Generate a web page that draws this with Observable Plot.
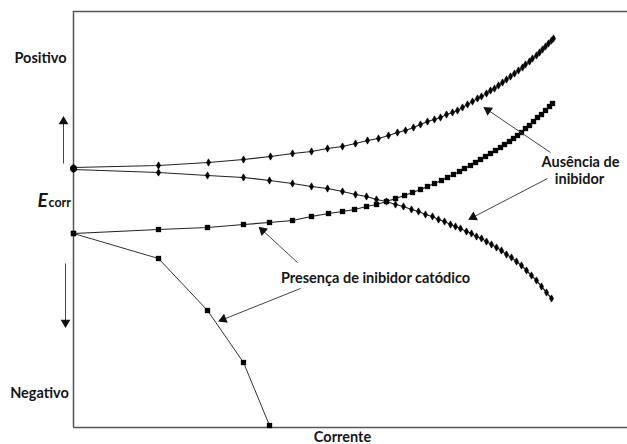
<!DOCTYPE html>
<html>
<head>
<meta charset="utf-8">
<script src="https://cdn.jsdelivr.net/npm/d3@7"></script>
<script src="https://cdn.jsdelivr.net/npm/@observablehq/plot@0.6"></script>
<style>
  html, body { margin: 0; padding: 0; background: #fff; }
  #chart svg { display: block; }
</style>
</head>
<body>
<div id="chart"></div>
<script>
// Arbitrary units: current (x) and potential (y)
const anodicNoInhibitor = [[0,260],[85,262],[135,265],[170,268],[197,271],[219,274],[238,276],[254,279],[269,281],[282,284],[294,287],[305,289],[315,292],[324,295],[332,297],[340,300],[347,303],[354,306],[361,308],[367,310],[373,313],[379,315],[384,317],[389,320],[394,323],[399,326],[404,329],[408,331],[413,334],[417,337],[421,339],[425,342],[429,345],[433,348],[437,351],[441,354],[445,357],[449,360],[452,363],[456,366],[459,369],[463,372],[466,375],[469,378],[472,381],[475,384],[478,387],[480,389]];
const cathodicNoInhibitor = [[0,258],[85,255],[134,252],[170,250],[196,247],[219,244],[238,241],[254,239],[269,236],[282,233],[293,231],[303,228],[313,226],[322,223],[330,221],[338,218],[345,216],[352,213],[359,211],[365,208],[371,206],[377,203],[382,201],[387,199],[393,196],[398,194],[403,191],[408,189],[413,186],[418,183],[423,180],[428,177],[433,173],[438,170],[443,166],[448,162],[453,157],[458,152],[463,147],[468,141],[473,135],[478,129]];
const anodicInhibitor = [[0,194],[85,198],[134,200],[170,203],[196,205],[219,207],[238,211],[255,214],[269,216],[281,218],[293,221],[303,223],[313,226],[322,229],[331,232],[339,235],[347,238],[354,241],[361,244],[368,247],[374,250],[380,253],[386,256],[391,259],[397,262],[402,265],[407,268],[412,271],[417,274],[422,277],[427,280],[431,283],[436,286],[440,289],[444,292],[448,295],[452,299],[456,302],[460,306],[464,310],[468,313],[472,317],[476,321],[479,324]];
const cathodicInhibitor = [[0,194],[85,169],[134,117],[170,65],[196,2]];

const axisLabels = ["Positivo", "Negativo", "Corrente"];
const legendLabels = ["Ausência de", "inibidor", "Presença de inibidor catódico"];
// annotation arrows: [x1, y1, x2, y2] (tail -> head)
const annotationArrows = [[477,275,412,319],[474,249,397,209],[224,165,187,199],[227,139,147,107]];
const directionArrows = [[-10,264,-10,309],[-8,164,-8,102]];

const font = "Lato, 'Open Sans', sans-serif";
const ink = "#161616";
const toPts = a => a.map(([x, y]) => ({x, y}));
const allArrows = annotationArrows.concat(directionArrows).map(([x1,y1,x2,y2]) => ({x1,y1,x2,y2,
  angle: Math.atan2(x2 - x1, y2 - y1) * 180 / Math.PI}));
const heads = allArrows.map(a => {
  const len = Math.hypot(a.x2 - a.x1, a.y2 - a.y1);
  const ux = (a.x2 - a.x1) / len, uy = (a.y2 - a.y1) / len;
  return {x: a.x2 - ux * 3, y: a.y2 - uy * 3, angle: a.angle};
});
const lbl = {fontSize: 14.5, fontWeight: "bold", fill: ink, text: d => d};

const chart = Plot.plot({
  width: 627,
  height: 444,
  marginLeft: 73,
  marginRight: 0,
  marginTop: 11,
  marginBottom: 17,
  x: {domain: [0, 554], axis: null},
  y: {domain: [0, 416], axis: null},
  style: {background: "#fff", fontFamily: font},
  marks: [
    Plot.ruleX([0], {y1: 0, y2: 416, stroke: "#555", strokeWidth: 1.5}),
    Plot.ruleY([0, 416], {x1: 0, x2: 554, stroke: "#555", strokeWidth: 1.5}),
    Plot.line(toPts(anodicNoInhibitor), {x: "x", y: "y", stroke: "#222", strokeWidth: 1.2}),
    Plot.line(toPts(cathodicNoInhibitor), {x: "x", y: "y", stroke: "#222", strokeWidth: 1.2}),
    Plot.line(toPts(anodicInhibitor), {x: "x", y: "y", stroke: "#222", strokeWidth: 1.2}),
    Plot.line(toPts(cathodicInhibitor), {x: "x", y: "y", stroke: "#333", strokeWidth: 1}),
    Plot.dot(toPts(anodicNoInhibitor), {x: "x", y: "y", symbol: "diamond", r: 2.2, fill: "#000", stroke: "#000", strokeWidth: 0.6}),
    Plot.dot(toPts(cathodicNoInhibitor), {x: "x", y: "y", symbol: "diamond", r: 2.2, fill: "#000", stroke: "#000", strokeWidth: 0.6}),
    Plot.dot(toPts(anodicInhibitor), {x: "x", y: "y", symbol: "square", r: 3, fill: "#000", stroke: "none"}),
    Plot.dot(toPts(cathodicInhibitor), {x: "x", y: "y", symbol: "square", r: 3, fill: "#000", stroke: "none"}),
    Plot.dot([{x: 0, y: 259}], {x: "x", y: "y", r: 3.5, fill: "#000"}),
    Plot.link(allArrows, {x1: "x1", y1: "y1", x2: "x2", y2: "y2", stroke: "#444", strokeWidth: 1}),
    Plot.dot(heads, {x: "x", y: "y", symbol: "triangle", r: 3.6, fill: "#111", stroke: "none", rotate: "angle"}),
    Plot.text([axisLabels[0]], {...lbl, x: -33, y: 369}),
    Plot.text([axisLabels[1]], {...lbl, x: -34, y: 34}),
    Plot.text([axisLabels[2]], {...lbl, x: 269, y: -10}),
    Plot.text(["E"], {x: -31, y: 227, text: d => d, fontSize: 19, fontWeight: "bold", fontStyle: "italic", fill: ink}),
    Plot.text(["corr"], {x: -25, y: 225, text: d => d, fontSize: 12.5, fontWeight: "bold", textAnchor: "start", fill: ink}),
    Plot.text([legendLabels[0]], {...lbl, x: 507, y: 265}),
    Plot.text([legendLabels[1]], {...lbl, x: 506, y: 248}),
    Plot.text([legendLabels[2]], {...lbl, x: 302, y: 149})
  ]
});
document.getElementById("chart").appendChild(chart);
</script>
</body>
</html>
